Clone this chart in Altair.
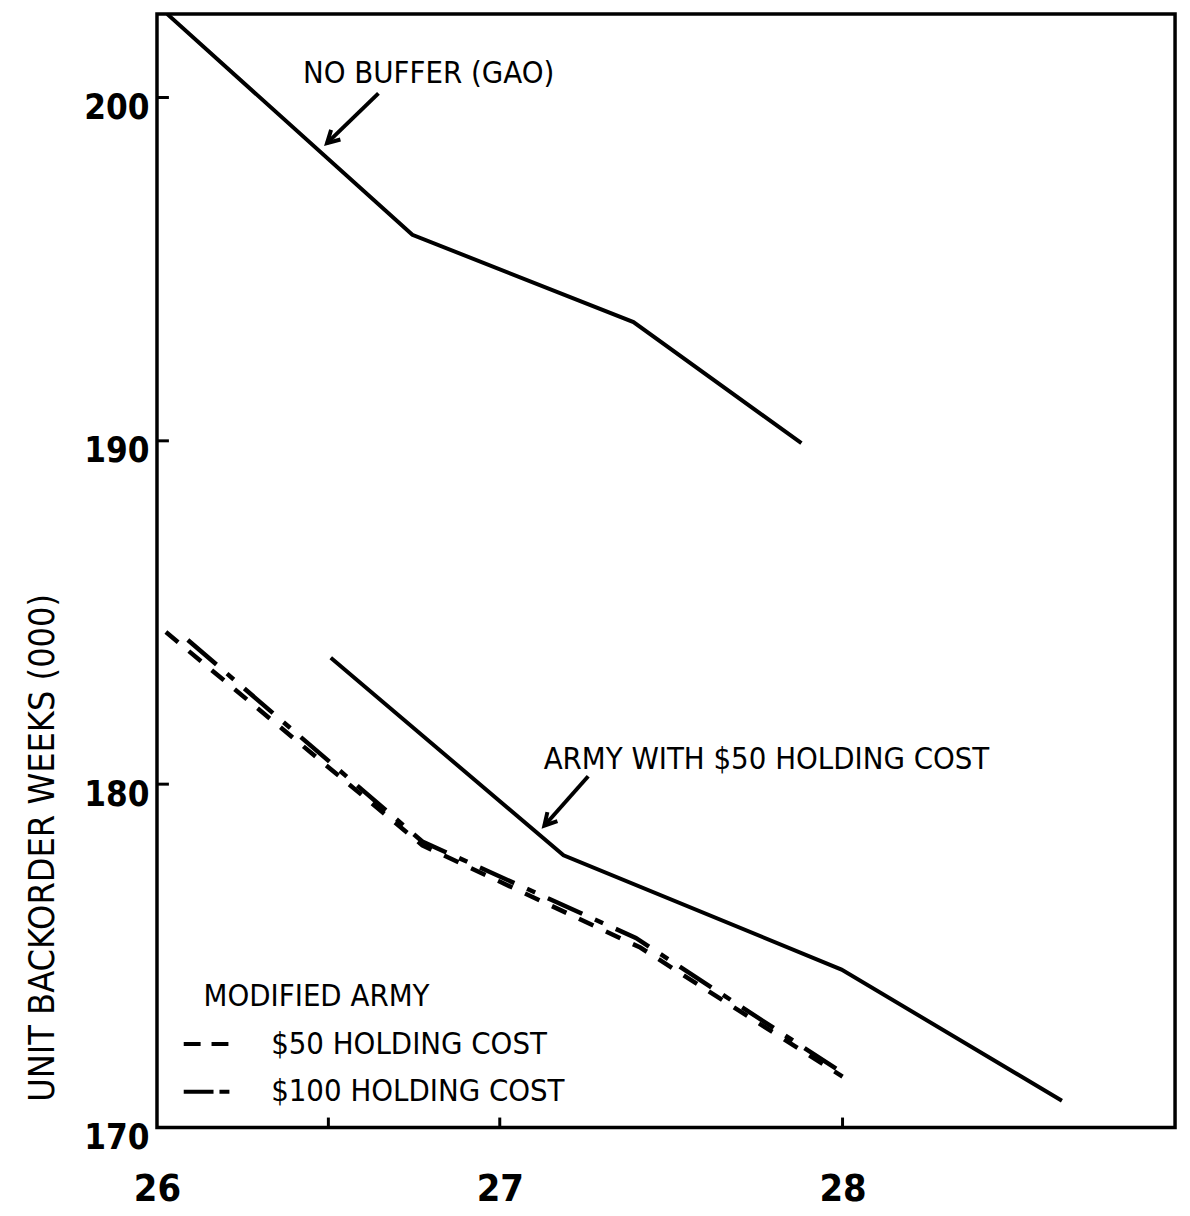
import math
import altair as alt
import pandas as pd

FONT = "DejaVu Sans Condensed, Liberation Sans Narrow, sans-serif"

# ---- axis values ----
x_label_values = [26, 27, 28]
x_tick_values = [26.5, 27, 28]
y_label_values = [170, 180, 190, 200]
y_tick_values = [180, 190, 200]

# ---- series ----
nobuf_x = [26.03, 26.745, 27.39, 27.88]
nobuf_y = [202.43, 196.0, 193.46, 189.93]

army_x = [26.507, 27.186, 27.997, 28.64]
army_y = [183.68, 177.93, 174.6, 170.78]

mod50_x = [26.026, 26.774, 27.41, 28.0]
mod50_y = [184.43, 178.22, 175.24, 171.48]

mod100_x = [26.09, 26.774, 27.397, 28.0]
mod100_y = [184.2, 178.33, 175.52, 171.59]

# ---- annotations ----
label_text = ["NO BUFFER (GAO)", "ARMY WITH $50 HOLDING COST",
              "MODIFIED ARMY", "$50 HOLDING COST", "$100 HOLDING COST"]
label_x = [26.426, 27.128, 26.136, 26.333, 26.333]
label_y = [200.69, 180.69, 173.79, 172.40, 171.04]

arrow_tail_x = [26.646, 27.258]
arrow_tail_y = [200.12, 180.23]
arrow_tip_x = [26.496, 27.130]
arrow_tip_y = [198.67, 178.79]

legend50_x = [26.078, 26.217]
legend50_y = [172.43, 172.43]
legend100_x = [26.078, 26.217]
legend100_y = [171.04, 171.04]

W, H = 1025, 1121
X_DOM = [26.0, 28.97]
Y_DOM = [170.0, 202.43]

xscale = alt.Scale(domain=X_DOM, nice=False, zero=False)
yscale = alt.Scale(domain=Y_DOM, nice=False, zero=False)

x_axis = alt.Axis(values=x_label_values, format="d", ticks=False, domain=False,
                  grid=False, labelFont=FONT, labelFontSize=38, labelFontWeight="bold",
                  labelColor="black", labelPadding=44, labelFlush=False, labelOverlap=False)
y_axis = alt.Axis(values=y_label_values, format="d", ticks=False, domain=False,
                  grid=False, labelFont=FONT, labelFontSize=35, labelFontWeight="bold",
                  labelColor="black", labelPadding=8, labelOffset=10, labelOverlap=False,
                  titleFont=FONT, titleFontSize=36, titleFontWeight="normal",
                  titleColor="black", titleAngle=270, titleX=-115, titleY=839,
                  titleAlign="center", titleBaseline="middle")

X = alt.X("x:Q", scale=xscale, axis=x_axis, title=None)
Y = alt.Y("y:Q", scale=yscale, axis=y_axis, title="UNIT BACKORDER WEEKS (000)")


def df(xs, ys):
    return pd.DataFrame({"x": xs, "y": ys})


line_nobuf = alt.Chart(df(nobuf_x, nobuf_y)).mark_line(
    color="black", strokeWidth=4, clip=True).encode(x=X, y=Y)
line_army = alt.Chart(df(army_x, army_y)).mark_line(
    color="black", strokeWidth=4).encode(x=X, y=Y)
line_50 = alt.Chart(df(mod50_x, mod50_y)).mark_line(
    color="black", strokeWidth=4.5, strokeDash=[16, 14]).encode(x=X, y=Y)
line_100 = alt.Chart(df(mod100_x, mod100_y)).mark_line(
    color="black", strokeWidth=4.5, strokeDash=[38, 14, 9, 14]).encode(x=X, y=Y)

leg_50 = alt.Chart(df(legend50_x, legend50_y)).mark_line(
    color="black", strokeWidth=4, strokeDash=[17, 11]).encode(x=X, y=Y)
leg_100 = alt.Chart(df(legend100_x, legend100_y)).mark_line(
    color="black", strokeWidth=4, strokeDash=[30, 6, 10, 6]).encode(x=X, y=Y)

texts = alt.Chart(pd.DataFrame({"x": label_x, "y": label_y, "t": label_text})).mark_text(
    align="left", baseline="middle", font=FONT, fontSize=31, color="black"
).encode(x=X, y=Y, text="t:N")

# arrows
sx = W / (X_DOM[1] - X_DOM[0])
sy = H / (Y_DOM[1] - Y_DOM[0])
angles = []
for tx, ty, hx, hy in zip(arrow_tail_x, arrow_tail_y, arrow_tip_x, arrow_tip_y):
    dx = (hx - tx) * sx
    dy = -(hy - ty) * sy
    angles.append(math.degrees(math.atan2(dx, -dy)) % 360)

arrow_df = pd.DataFrame({"x": arrow_tail_x, "y": arrow_tail_y,
                         "x2": arrow_tip_x, "y2": arrow_tip_y})
shafts = alt.Chart(arrow_df).mark_rule(color="black", strokeWidth=4).encode(
    x=X, y=Y, x2="x2:Q", y2="y2:Q")

head_df = pd.DataFrame({"x": arrow_tip_x, "y": arrow_tip_y, "a": angles})
heads = alt.Chart(head_df).mark_point(
    shape="M -0.55 1 L 0 0 L 0.55 1", size=600, filled=False,
    stroke="black", strokeWidth=4, opacity=1
).encode(x=X, y=Y, angle=alt.Angle("a:Q", scale=None))

# inward ticks
yticks = alt.Chart(pd.DataFrame({"y": y_tick_values})).mark_rule(
    color="black", strokeWidth=3).encode(y=Y, x=alt.value(0), x2=alt.value(12))
xticks = alt.Chart(pd.DataFrame({"x": x_tick_values})).mark_rule(
    color="black", strokeWidth=3).encode(x=X, y=alt.value(H), y2=alt.value(H - 10))

chart = alt.layer(
    line_nobuf, line_army, line_50, line_100, leg_50, leg_100,
    texts, shafts, heads, yticks, xticks
).properties(
    width=W, height=H,
    autosize=alt.AutoSizeParams(type="none"),
    padding={"left": 150, "top": 2, "right": 7, "bottom": 85},
    background="white",
).configure_view(stroke="black", strokeWidth=3.5)

chart.save("out.html", embed_options={"renderer": "svg", "actions": False})
